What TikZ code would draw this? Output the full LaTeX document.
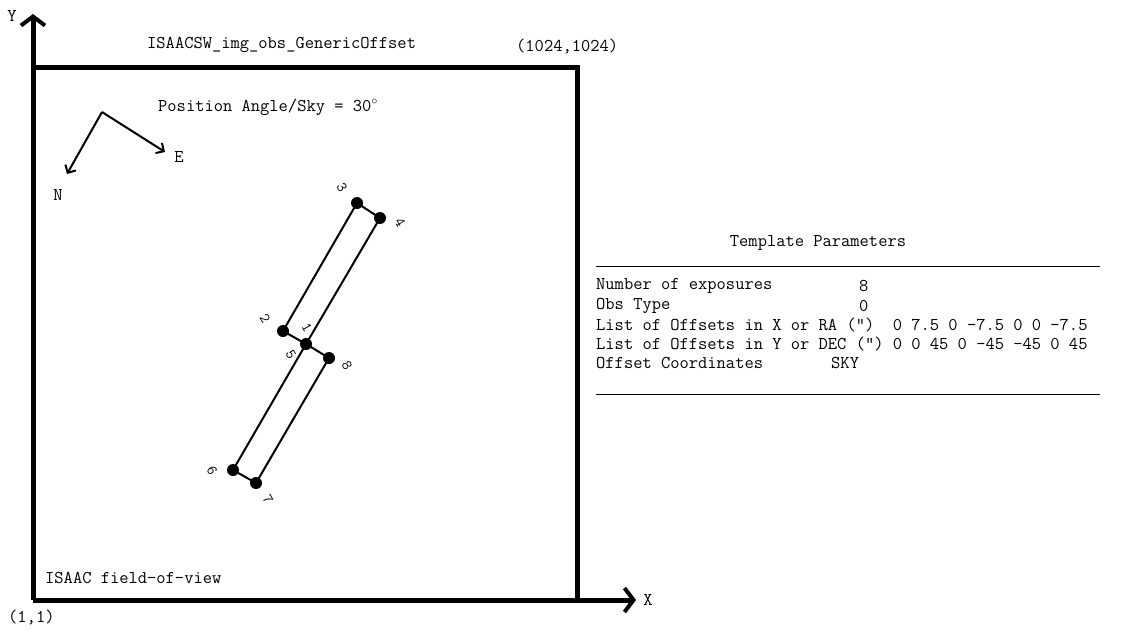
\documentclass[tikz,border=0pt]{standalone}
\usetikzlibrary{arrows.meta}

\begin{document}
\begin{tikzpicture}[x=1pt,y=-1pt]
        \tikzstyle{every node}=[font=\ttfamily\fontsize{18}{20}\selectfont,inner sep=0pt]
        \tikzstyle{axis}=[line width=5pt,-{Straight Barb[length=9pt,width=24pt,line width=4pt]}]
        \tikzstyle{frame}=[line width=5pt]
        \tikzstyle{dot}=[circle,fill,minimum size=12pt]
        \tikzstyle{track}=[line width=2pt]
        \tikzstyle{dir}=[line width=2pt,-{Straight Barb[length=6pt,width=12pt,line width=2pt]}]
        \tikzstyle{poslabel}=[rotate=-60,font=\ttfamily\fontsize{15}{16}\selectfont]

        \useasboundingbox (0,0) rectangle (1131,630);

        % axes and field of view
        \coordinate (origin) at (33,600);
        \coordinate (ytip)   at (33,14);
        \coordinate (xtip)   at (636,600);
        \coordinate (topleft)  at (31,67);
        \coordinate (topright) at (577,67);
        \coordinate (botright) at (577,600);
        \draw[axis] (origin) -- (ytip);
        \draw[axis] (origin) -- (xtip);
        \draw[frame] (topleft) -- (topright) -- (botright);

        \node (ylab) at (12,16) {Y};
        \node (xlab) at (648,600) {X};
        \node[anchor=west] (title) at (147,45) {ISAACSW\_img\_obs\_GenericOffset};
        \node[anchor=west] (corner) at (516,47) {(1024,1024)};
        \node[anchor=west] (unit) at (8,617) {(1,1)};
        \node[anchor=west] (fov) at (45,578) {ISAAC field-of-view};
        \node[anchor=west] (pa) at (158,107) {Position Angle/Sky = 30$^\circ$};

        % compass
        \coordinate (c0) at (102,112);
        \coordinate (cn) at (67,174);
        \coordinate (ce) at (165,152);
        \draw[dir] (c0) -- (cn);
        \draw[dir] (c0) -- (ce);
        \node (N) at (58,195) {N};
        \node (E) at (179,157) {E};

        % offset positions
        \node[dot] (p1) at (306,344) {};
        \node[dot] (p2) at (283,331) {};
        \node[dot] (p3) at (357,203) {};
        \node[dot] (p4) at (380,218) {};
        \node[dot] (p6) at (233,470) {};
        \node[dot] (p7) at (256,483) {};
        \node[dot] (p8) at (329,358) {};
        \draw[track] (p1.center) -- (p2.center) -- (p3.center) -- (p4.center)
                     -- (p1.center) -- (p6.center) -- (p7.center) -- (p8.center)
                     -- (p1.center);

        \foreach \n/\x/\y in {1/307/327, 2/265/318, 3/342/188, 4/400/222,
                              5/291/355, 6/212/471, 7/268/500, 8/347/366} {
            \node[poslabel] (l\n) at (\x,\y) {\n};
        };

        % template parameters
        \node (tp) at (818,243) {Template Parameters};
        \coordinate (r1a) at (596,266);
        \coordinate (r1b) at (1100,266);
        \coordinate (r2a) at (596,394);
        \coordinate (r2b) at (1100,394);
        \draw[line width=1pt] (r1a) -- (r1b);
        \draw[line width=1pt] (r2a) -- (r2b);
        \node[anchor=west] (k1) at (596,286) {Number of exposures};
        \node[anchor=west] (v1) at (859,286) {8};
        \node[anchor=west] (k2) at (596,306) {Obs Type};
        \node[anchor=west] (v2) at (859,306) {0};
        \node[anchor=west] (k3) at (596,325) {List of Offsets in X or RA (") \ 0 7.5 0 -7.5 0 0 -7.5};
        \node[anchor=west] (k4) at (596,344) {List of Offsets in Y or DEC (") 0 0 45 0 -45 -45 0 45};
        \node[anchor=west] (k5) at (596,363) {Offset Coordinates};
        \node[anchor=west] (v5) at (831,363) {SKY};
\end{tikzpicture}
\end{document}
